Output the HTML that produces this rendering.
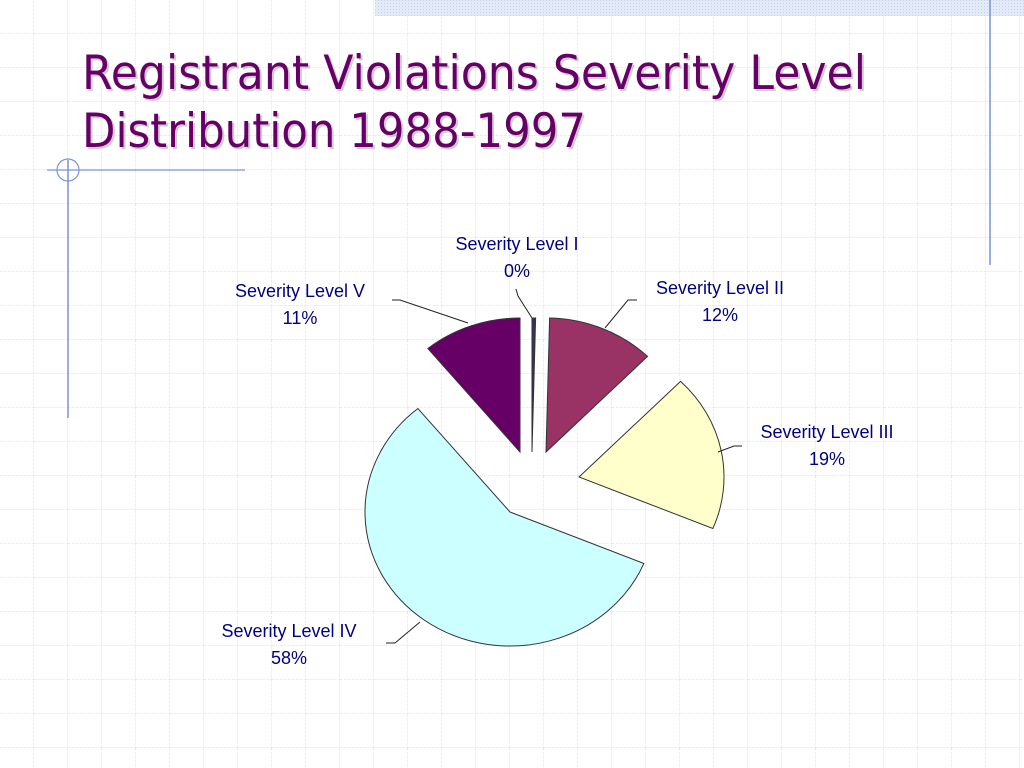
<!DOCTYPE html>
<html><head><meta charset="utf-8"><style>
html,body{margin:0;padding:0;background:#fff;}
svg{display:block;}
</style></head><body>
<svg width="1024" height="768" viewBox="0 0 1024 768" font-family="'Liberation Sans', sans-serif">
<defs>
<pattern id="grid" width="34" height="34" patternUnits="userSpaceOnUse" x="0" y="0">
<path d="M34 0 V34 M0 34 H34" stroke="#dde3f5" stroke-width="1.2" stroke-dasharray="3,1" fill="none"/>
</pattern>
<pattern id="dots" width="3" height="3" patternUnits="userSpaceOnUse">
<rect width="3" height="3" fill="#e4ebf8"/><rect width="1" height="1" fill="#c6d3ee"/>
</pattern>
</defs>
<rect width="1024" height="768" fill="url(#grid)"/>
<rect x="375" y="0" width="649" height="16" fill="url(#dots)"/>
<line x1="990" y1="0" x2="990" y2="265" stroke="#7b93d6" stroke-width="1.5"/>
<line x1="68" y1="160" x2="68" y2="418" stroke="#7b93d6" stroke-width="1.5"/>
<line x1="47" y1="170" x2="245" y2="170" stroke="#7b93d6" stroke-width="1.2"/>
<circle cx="68" cy="170" r="11" fill="none" stroke="#7b93d6" stroke-width="1.2"/>
<g font-family="'DejaVu Sans', 'Liberation Sans', sans-serif" font-size="47" fill="#660066">
<text x="84" y="91" textLength="784" lengthAdjust="spacingAndGlyphs" fill="#b8a8b8" opacity="0.6">Registrant Violations Severity Level</text>
<text x="82" y="89" textLength="784" lengthAdjust="spacingAndGlyphs">Registrant Violations Severity Level</text>
<text x="84" y="149" textLength="504" lengthAdjust="spacingAndGlyphs" fill="#b8a8b8" opacity="0.6">Distribution 1988-1997</text>
<text x="82" y="147" textLength="504" lengthAdjust="spacingAndGlyphs">Distribution 1988-1997</text>
</g>
<g id="pie"></g>
</svg>
<script>
const categories = ["Severity Level I","Severity Level II","Severity Level III","Severity Level IV","Severity Level V"];
const values = [0.4, 12, 19, 58, 11];
const percentLabels = ["0%","12%","19%","58%","11%"];
// styling (not data)
const colors = ["#333366","#993366","#FFFFCC","#CCFFFF","#660066"];
const apexes = [[532,452],[546,452],[579,477],[510,512],[520,452]];
const labelPos = [[517,250],[720,294],[827,438],[289,637],[300,297]];
const leaders = [[[516,289],[518,296],[532,318]],[[637,300],[628,300],[605,328]],[[742,446],[734,446],[718,452]],[[386,643],[395,643],[420,622]],[[392,300],[400,300],[468,323]]];
const RX=145, RY=134;
const NS="http://www.w3.org/2000/svg";
const g=document.getElementById('pie');
const total=values.reduce((a,b)=>a+b,0);
let cum=0;
function pt(a,ang){return [a[0]+RX*Math.sin(ang), a[1]-RY*Math.cos(ang)];}
values.forEach((v,i)=>{
  const a0=cum/total*2*Math.PI; cum+=v; const a1=cum/total*2*Math.PI;
  const A=apexes[i]; const p0=pt(A,a0), p1=pt(A,a1);
  const large=(a1-a0)>Math.PI?1:0;
  const path=document.createElementNS(NS,'path');
  path.setAttribute('d',`M${A[0]},${A[1]} L${p0[0]},${p0[1]} A${RX},${RY} 0 ${large} 1 ${p1[0]},${p1[1]} Z`);
  path.setAttribute('fill',colors[i]);
  path.setAttribute('stroke','#333');
  path.setAttribute('stroke-width','1');
  
  
  g.appendChild(path);
  const ln=document.createElementNS(NS,'polyline');
  ln.setAttribute('points',leaders[i].map(p=>p.join(',')).join(' '));
  ln.setAttribute('fill','none');ln.setAttribute('stroke','#222');ln.setAttribute('stroke-width','1');
  
  
  g.appendChild(ln);
  const t=document.createElementNS(NS,'text');
  t.setAttribute('x',labelPos[i][0]);t.setAttribute('y',labelPos[i][1]);
  t.setAttribute('text-anchor','middle');t.setAttribute('font-size','18');t.setAttribute('fill','#000080');
  
  
  const s1=document.createElementNS(NS,'tspan');s1.setAttribute('x',labelPos[i][0]);s1.textContent=categories[i];
  const s2=document.createElementNS(NS,'tspan');s2.setAttribute('x',labelPos[i][0]);s2.setAttribute('dy','27');s2.textContent=percentLabels[i];
  t.appendChild(s1);t.appendChild(s2);g.appendChild(t);
});
</script>
</body></html>
